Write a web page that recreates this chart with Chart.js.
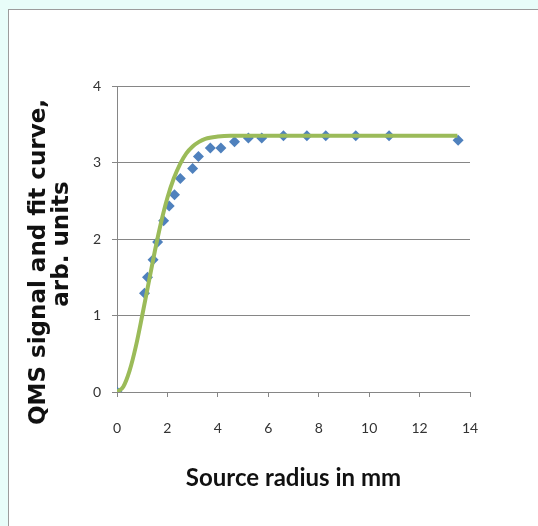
<!DOCTYPE html>
<html>
<head>
<meta charset="utf-8">
<script src="https://cdn.jsdelivr.net/npm/chart.js@4/dist/chart.umd.min.js"></script>
<style>
  html, body { margin: 0; padding: 0; width: 538px; height: 526px; overflow: hidden; background: #e8fdf9; }
  #frame { position: absolute; left: 8px; top: 9px; width: 620px; height: 620px; background: #ffffff; border: 1px solid #9c9c9c; }
  #c { position: absolute; left: 0; top: 0; }
</style>
</head>
<body>
<div id="frame"></div>
<canvas id="c" width="538" height="526"></canvas>
<script>
// Measured points (source radius in mm, QMS signal in arb. units)
const radiusMm = [0, 1.09, 1.21, 1.43, 1.61, 1.85, 2.07, 2.28, 2.51, 3.0, 3.23, 3.70, 4.12, 4.66, 5.21, 5.74, 6.6, 7.53, 8.28, 9.47, 10.79, 13.53];
const qmsSignal = [0, 1.29, 1.50, 1.73, 1.96, 2.24, 2.43, 2.58, 2.79, 2.92, 3.08, 3.19, 3.19, 3.27, 3.32, 3.32, 3.35, 3.35, 3.35, 3.35, 3.35, 3.29];
// Fit curve
const fitX = [0, 0.25, 0.5, 0.75, 1.0, 1.25, 1.5, 1.75, 2.0, 2.25, 2.5, 2.75, 3.0, 3.25, 3.5, 4.0, 4.5, 5.0, 7.0, 10.0, 13.5];
const fitY = [0, 0.07, 0.28, 0.60, 1.00, 1.42, 1.84, 2.22, 2.54, 2.79, 2.98, 3.12, 3.21, 3.27, 3.31, 3.34, 3.35, 3.35, 3.35, 3.35, 3.35];
const xTicks = [0, 2, 4, 6, 8, 10, 12, 14];
const yTicks = [0, 1, 2, 3, 4];
const xTitle = 'Source radius in mm';
const yTitleLines = ['QMS signal and fit curve,', 'arb. units'];

const pts = (xs, ys) => xs.map((x, i) => ({x: x, y: ys[i]}));

// Draws the two-line vertical y-axis title
const yTitlePlugin = {
  id: 'yTitle',
  afterDraw(chart) {
    const ctx = chart.ctx;
    ctx.save();
    ctx.font = 'bold 23px "DejaVu Sans"';
    ctx.fillStyle = '#111111';
    ctx.textAlign = 'center';
    ctx.textBaseline = 'middle';
    const pos = [[39, 262], [62, 244]];
    yTitleLines.forEach((line, i) => {
      ctx.save();
      ctx.translate(pos[i][0], pos[i][1]);
      ctx.rotate(-Math.PI / 2);
      ctx.fillText(line, 0, 0);
      ctx.restore();
    });
    ctx.restore();
  }
};

new Chart(document.getElementById('c'), {
  type: 'scatter',
  data: {
    datasets: [
      {
        label: 'fit',
        type: 'line',
        data: pts(fitX, fitY),
        borderColor: '#9bbb59',
        borderWidth: 4,
        pointRadius: 0,
        fill: false,
        cubicInterpolationMode: 'monotone',
        order: 0
      },
      {
        label: 'QMS signal',
        data: pts(radiusMm, qmsSignal),
        pointStyle: 'rectRot',
        pointRadius: 5.5,
        backgroundColor: '#4f81bd',
        borderColor: '#4f81bd',
        borderWidth: 0,
        order: 1
      }
    ]
  },
  plugins: [yTitlePlugin],
  options: {
    responsive: false,
    animation: false,
    devicePixelRatio: 1,
    layout: { padding: { left: 17, top: 86, right: 68, bottom: 24 } },
    plugins: { legend: { display: false }, tooltip: { enabled: false } },
    scales: {
      x: {
        type: 'linear',
        min: 0, max: 14,
        afterBuildTicks: s => { s.ticks = xTicks.map(v => ({value: v})); },
        afterFit: s => { s.height = 110; },
        grid: { drawOnChartArea: false, drawTicks: true, tickLength: 5, color: '#868686', lineWidth: 1 },
        border: { color: '#868686', width: 1 },
        ticks: { padding: 23, color: '#333333', font: { family: 'Lato', size: 14 } },
        title: { display: true, text: xTitle, color: '#111111', padding: { top: 0, bottom: 11 }, font: { family: 'Lato', size: 24, weight: 'bold', lineHeight: 1.1 } }
      },
      y: {
        type: 'linear',
        min: 0, max: 4,
        afterBuildTicks: s => { s.ticks = yTicks.map(v => ({value: v})); },
        afterFit: s => { s.width = 100; },
        grid: { drawOnChartArea: true, drawTicks: true, tickLength: 5, color: '#868686', lineWidth: 1 },
        border: { color: '#868686', width: 1 },
        ticks: { padding: 11, color: '#333333', font: { family: 'Lato', size: 14 } },
        title: { display: false }
      }
    }
  }
});
</script>
</body>
</html>
